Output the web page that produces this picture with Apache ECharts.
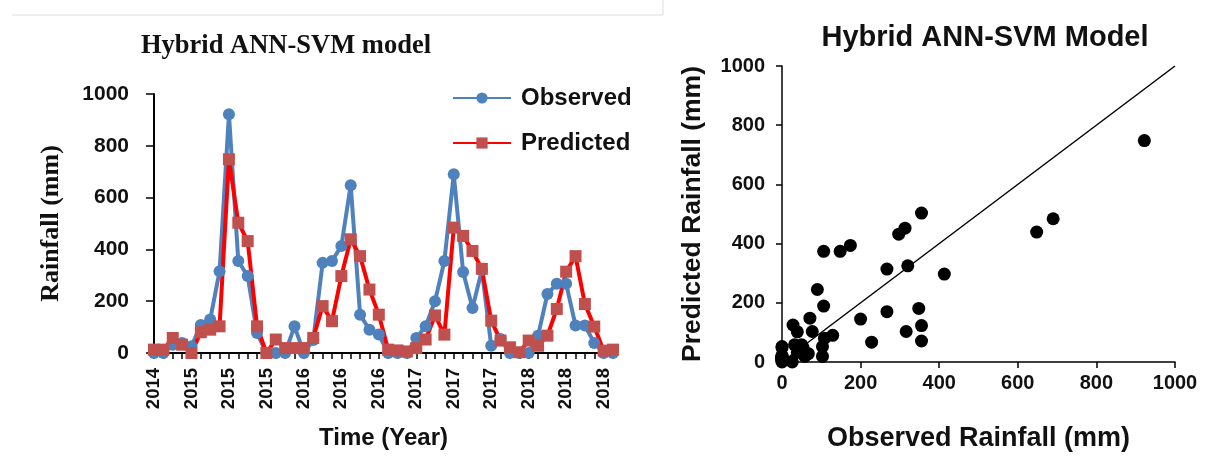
<!DOCTYPE html>
<html>
<head>
<meta charset="utf-8">
<script src="https://cdn.jsdelivr.net/npm/echarts@6/dist/echarts.min.js"></script>
<style>
  html, body { margin: 0; padding: 0; background: #fff; }
  #main { width: 1205px; height: 458px; }
</style>
</head>
<body>
<div id="main"></div>
<script type="text/javascript">
	// monthly rainfall, observed vs model output (mm)
	var observed = [0,0,32,39,26,108,129,316,922,355,297,77,0,0,0,103,0,50,348,355,413,648,148,90,71,0,0,0,58,103,200,355,690,313,174,320,28,54,0,0,0,67,228,267,267,106,106,39,0,0];
	var predicted = [13,13,58,32,0,80,90,103,748,503,432,103,0,52,19,19,19,58,181,123,297,439,374,245,148,13,10,6,19,52,145,71,484,452,394,325,125,48,22,3,48,28,67,170,314,374,189,102,9,13];
	var yearTicks = ['2014','2015','2015','2015','2016','2016','2016','2017','2017','2017','2018','2018','2018'];
	var oneToOne = [0, 1000];

	var sans = 'Liberation Sans';
	var serif = 'Liberation Serif';

	var cats = observed.map(function (v, i) { return String(i); });
	var pairs = observed.map(function (v, i) { return [v, predicted[i]]; });
	var plain = function (v) { return String(v); };

	var chart = echarts.init(document.getElementById('main'));
	chart.setOption({
		animation: false,
		title: [{
			text: 'Hybrid ANN-SVM model',
			left: 281, top: 28, textAlign: 'center',
			textStyle: { fontFamily: serif, fontWeight: 'bold', fontSize: 26.5, color: '#111' }
		}, {
			text: 'Hybrid ANN-SVM Model',
			left: 980, top: 18, textAlign: 'center',
			textStyle: { fontFamily: sans, fontWeight: 'bold', fontSize: 29, color: '#111' }
		}],
		legend: {
			data: ['Observed', 'Predicted'],
			orient: 'vertical',
			left: 447, top: 80,
			itemWidth: 58, itemHeight: 14, itemGap: 19,
			textStyle: { fontFamily: sans, fontWeight: 'bold', fontSize: 24, lineHeight: 26, color: '#111', padding: [0, 0, 0, 5] }
		},
		graphic: [{
			type: 'polyline',
			shape: { points: [[12, 15], [663, 15], [663, 0]] },
			style: { stroke: '#ddd', lineWidth: 1, fill: null }
		}],
		grid: [
			{ left: 154, top: 94, width: 459, height: 259 },
			{ left: 782, top: 66, width: 393, height: 296 }
		],
		xAxis: [{
			gridIndex: 0,
			type: 'category',
			data: cats,
			boundaryGap: false,
			name: 'Time (Year)',
			nameLocation: 'middle',
			nameGap: 73,
			nameTextStyle: { fontFamily: sans, fontWeight: 'bold', fontSize: 24, color: '#111' },
			axisLine: { lineStyle: { color: '#000', width: 2 } },
			axisTick: { interval: 0, length: 6, lineStyle: { color: '#000', width: 1.5 } },
			axisLabel: {
				interval: 3, rotate: 90, margin: 15,
				fontFamily: sans, fontWeight: 'bold', fontSize: 18.5, color: '#111',
				formatter: function (v, idx) { return yearTicks[idx / 4]; }
			},
			splitLine: { show: false }
		}, {
			gridIndex: 1,
			type: 'value',
			min: 0, max: 1000, interval: 200,
			name: 'Observed Rainfall (mm)',
			nameLocation: 'middle',
			nameGap: 63,
			nameTextStyle: { fontFamily: sans, fontWeight: 'bold', fontSize: 27, color: '#111' },
			axisLine: { lineStyle: { color: '#000', width: 1.5 } },
			axisTick: { length: 6, lineStyle: { color: '#000', width: 1.5 } },
			axisLabel: { margin: 11, fontFamily: sans, fontWeight: 'bold', fontSize: 20, color: '#111', formatter: plain },
			splitLine: { show: false }
		}],
		yAxis: [{
			gridIndex: 0,
			type: 'value',
			min: 0, max: 1000, interval: 200,
			name: 'Rainfall (mm)',
			nameLocation: 'middle',
			nameGap: 90,
			nameTextStyle: { fontFamily: serif, fontWeight: 'bold', fontSize: 26, color: '#111' },
			axisLine: { show: true, lineStyle: { color: '#000', width: 2 } },
			axisTick: { show: true, length: 8, lineStyle: { color: '#000', width: 1.5 } },
			axisLabel: { margin: 25, fontFamily: sans, fontWeight: 'bold', fontSize: 21, color: '#111', formatter: plain },
			splitLine: { show: false }
		}, {
			gridIndex: 1,
			type: 'value',
			min: 0, max: 1000, interval: 200,
			name: 'Predicted Rainfall (mm)',
			nameLocation: 'middle',
			nameGap: 76,
			nameTextStyle: { fontFamily: sans, fontWeight: 'bold', fontSize: 26.5, color: '#111' },
			axisLine: { show: true, lineStyle: { color: '#000', width: 1.5 } },
			axisTick: { show: true, length: 6, lineStyle: { color: '#000', width: 1.5 } },
			axisLabel: { margin: 17, fontFamily: sans, fontWeight: 'bold', fontSize: 20, color: '#111', formatter: plain },
			splitLine: { show: false }
		}],
		series: [{
			name: 'Observed',
			type: 'line',
			xAxisIndex: 0, yAxisIndex: 0,
			data: observed,
			showAllSymbol: true,
			symbol: 'circle', symbolSize: 12,
			lineStyle: { color: '#4F81BD', width: 4 },
			itemStyle: { color: '#4F81BD' }
		}, {
			name: 'Predicted',
			type: 'line',
			xAxisIndex: 0, yAxisIndex: 0,
			data: predicted,
			showAllSymbol: true,
			symbol: 'rect', symbolSize: 12,
			lineStyle: { color: '#FF0000', width: 4 },
			itemStyle: { color: '#C0504D' }
		}, {
			name: '1:1',
			type: 'line',
			xAxisIndex: 1, yAxisIndex: 1,
			data: [[oneToOne[0], oneToOne[0]], [oneToOne[1], oneToOne[1]]],
			symbol: 'none',
			lineStyle: { color: '#000', width: 1.5 },
			silent: true
		}, {
			name: 'scatter',
			type: 'scatter',
			xAxisIndex: 1, yAxisIndex: 1,
			data: pairs,
			symbolSize: 13,
			itemStyle: { color: '#000', opacity: 1 }
		}]
	});
</script>
</body>
</html>
